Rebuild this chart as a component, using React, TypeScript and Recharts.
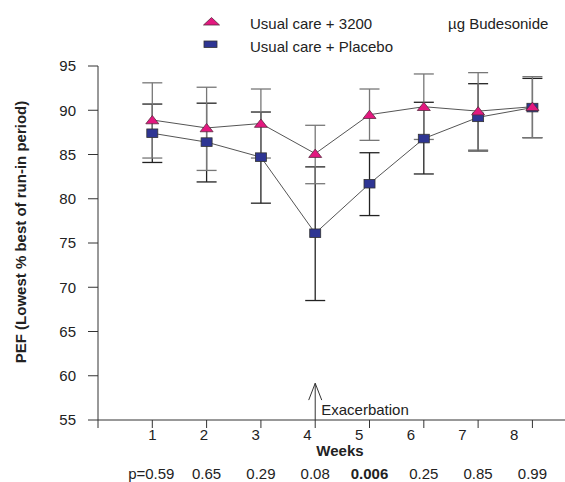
import React from 'react';
import {
  ComposedChart, Line, XAxis, YAxis, ErrorBar, ReferenceLine, ReferenceDot, Legend,
} from 'recharts';

const weeks = [1, 2, 3, 4, 5, 6, 7, 8];
const budesonide = [88.9, 88.0, 88.5, 85.1, 89.5, 90.4, 89.9, 90.4];
const budesonideErr: [number, number][] = [[4.3, 4.2], [4.8, 4.6], [3.9, 3.9], [3.4, 3.2], [2.9, 2.9], [3.7, 3.7], [4.4, 4.35], [3.5, 3.4]];
const placebo = [87.4, 86.4, 84.7, 76.1, 81.7, 86.8, 89.2, 90.3];
const placeboErr: [number, number][] = [[3.3, 3.3], [4.5, 4.4], [5.2, 5.1], [7.6, 7.5], [3.6, 3.5], [4.0, 4.1], [3.8, 3.8], [3.4, 3.3]];
const pValues = ['0.59', '0.65', '0.29', '0.08', '0.006', '0.25', '0.85', '0.99'];
const yTicks = [55, 60, 65, 70, 75, 80, 85, 90, 95];
const xTicks = [0, 1, 2, 3, 4, 5, 6, 7, 8];

const seriesNames = ['Usual care + 3200', 'Usual care + Placebo'];
const unitText = 'µg Budesonide';
const EXAC_WEEK = 4;
const EXAC_TOP = 59.15;
const EXAC_LEG = 57.25;

const data = weeks.map((w, i) => ({
  week: w,
  bud: budesonide[i],
  budErr: budesonideErr[i],
  pla: placebo[i],
  plaErr: placeboErr[i],
}));

const FONT = 'Liberation Sans, Arial, Helvetica, sans-serif';
const FS = 15;
const PINK = '#E3187F';
const BLUE = '#2E3593';

const Triangle = (props: any) => {
  const { cx, cy } = props;
  if (cx == null || cy == null) return null;
  return (
    <polygon
      points={`${cx},${cy - 4.5} ${cx - 6.5},${cy + 3.8} ${cx + 6.5},${cy + 3.8}`}
      fill={PINK}
      stroke="#5a2a40"
      strokeWidth={0.8}
    />
  );
};

const Square = (props: any) => {
  const { cx, cy } = props;
  if (cx == null || cy == null) return null;
  return (
    <rect x={cx - 5.5} y={cy - 4.3} width={11} height={8.6} fill={BLUE} stroke="#333" strokeWidth={0.8} />
  );
};

const XTick = (props: any) => {
  const { x, y, payload } = props;
  const v = payload.value;
  if (v === 0) return null;
  const p = pValues[v - 1];
  const bold = parseFloat(p) < 0.05;
  return (
    <g>
      <text x={x - (v - 1) * 2.6} y={y} dy="0.71em" textAnchor="middle" fontSize={FS} fontFamily={FONT} fill="#222">
        {v}
      </text>
      <text x={x + (v === 1 ? -1 : 0)} y={y + 39} dy="0.71em" textAnchor="middle" fontSize={FS} fontFamily={FONT} fill="#222" fontWeight={bold ? 'bold' : 'normal'}>
        {v === 1 ? `p=${p}` : p}
      </text>
    </g>
  );
};

const LegendContent = () => (
  <svg width={565} height={60}>
    <polygon points="211.5,17.5 203.5,25 219.5,25" fill={PINK} stroke="#5a2a40" strokeWidth={0.8} />
    <text x={250} y={29} fontSize={FS} fontFamily={FONT} fill="#222">{seriesNames[0]}</text>
    <text x={448} y={29} fontSize={FS} fontFamily={FONT} fill="#222">{unitText}</text>
    <rect x={204} y={41} width={13} height={6.5} fill={BLUE} stroke="#333" strokeWidth={0.8} />
    <text x={250} y={52.3} fontSize={FS} fontFamily={FONT} fill="#222">{seriesNames[1]}</text>
  </svg>
);

export default function App() {
  return (
    <div style={{ position: 'absolute', left: 0, top: 0, width: 565, height: 482, background: '#fff' }}>
      <ComposedChart width={565} height={482} data={data} margin={{ top: 66, right: 0, left: 0, bottom: 0 }}>
        <Legend
          layout="horizontal"
          verticalAlign="middle"
          align="center"
          content={LegendContent}
          wrapperStyle={{ position: 'absolute', top: 0, left: 0, width: 565, height: 60 }}
        />
        <XAxis
          dataKey="week"
          type="number"
          domain={[0, 8.6]}
          ticks={xTicks}
          allowDataOverflow
          height={62}
          tickSize={8}
          tickMargin={1}
          stroke="#333"
          tick={XTick}
          label={(p: any) => {
            const vb = p.viewBox || { x: 98, y: 420 };
            return (
              <text x={vb.x + 242} y={vb.y + 36.4} textAnchor="middle" fontSize={FS} fontWeight="bold" fontFamily={FONT} fill="#222">
                Weeks
              </text>
            );
          }}
        />
        <YAxis
          type="number"
          domain={[55, 95]}
          ticks={yTicks}
          width={98}
          tickSize={10}
          tickMargin={12}
          stroke="#333"
          tick={{ fontSize: FS, fontFamily: FONT, fill: '#222' }}
          label={() => (
            <text
              x={20}
              y={232}
              transform="rotate(-90 20 232)"
              textAnchor="middle"
              dominantBaseline="central"
              fontSize={FS}
              fontWeight="bold"
              fontFamily={FONT}
              fill="#222"
            >
              PEF (Lowest % best of run-in period)
            </text>
          )}
        />
        <ReferenceLine segment={[{ x: EXAC_WEEK, y: 55 }, { x: EXAC_WEEK, y: EXAC_TOP }]} stroke="#333" strokeWidth={1} />
        <ReferenceLine segment={[{ x: EXAC_WEEK - 0.12, y: EXAC_LEG }, { x: EXAC_WEEK, y: EXAC_TOP }]} stroke="#333" strokeWidth={1} />
        <ReferenceLine segment={[{ x: EXAC_WEEK + 0.12, y: EXAC_LEG }, { x: EXAC_WEEK, y: EXAC_TOP }]} stroke="#333" strokeWidth={1} />
        <ReferenceDot
          x={EXAC_WEEK}
          y={56.15}
          r={0}
          fill="none"
          stroke="none"
          label={{ value: 'Exacerbation', position: 'right', offset: 6, fontSize: FS, fontFamily: FONT, fill: '#222' }}
        />
        <Line
          dataKey="pla"
          name={seriesNames[1]}
          stroke="#555"
          strokeWidth={1}
          dot={<Square />}
          activeDot={false}
          isAnimationActive={false}
        >
          <ErrorBar dataKey="plaErr" direction="y" width={10} stroke="#222" strokeWidth={1.3} />
        </Line>
        <Line
          dataKey="bud"
          name={seriesNames[0]}
          stroke="#555"
          strokeWidth={1}
          dot={<Triangle />}
          activeDot={false}
          isAnimationActive={false}
        >
          <ErrorBar dataKey="budErr" direction="y" width={10} stroke="#777" strokeWidth={1.3} />
        </Line>
      </ComposedChart>
    </div>
  );
}
